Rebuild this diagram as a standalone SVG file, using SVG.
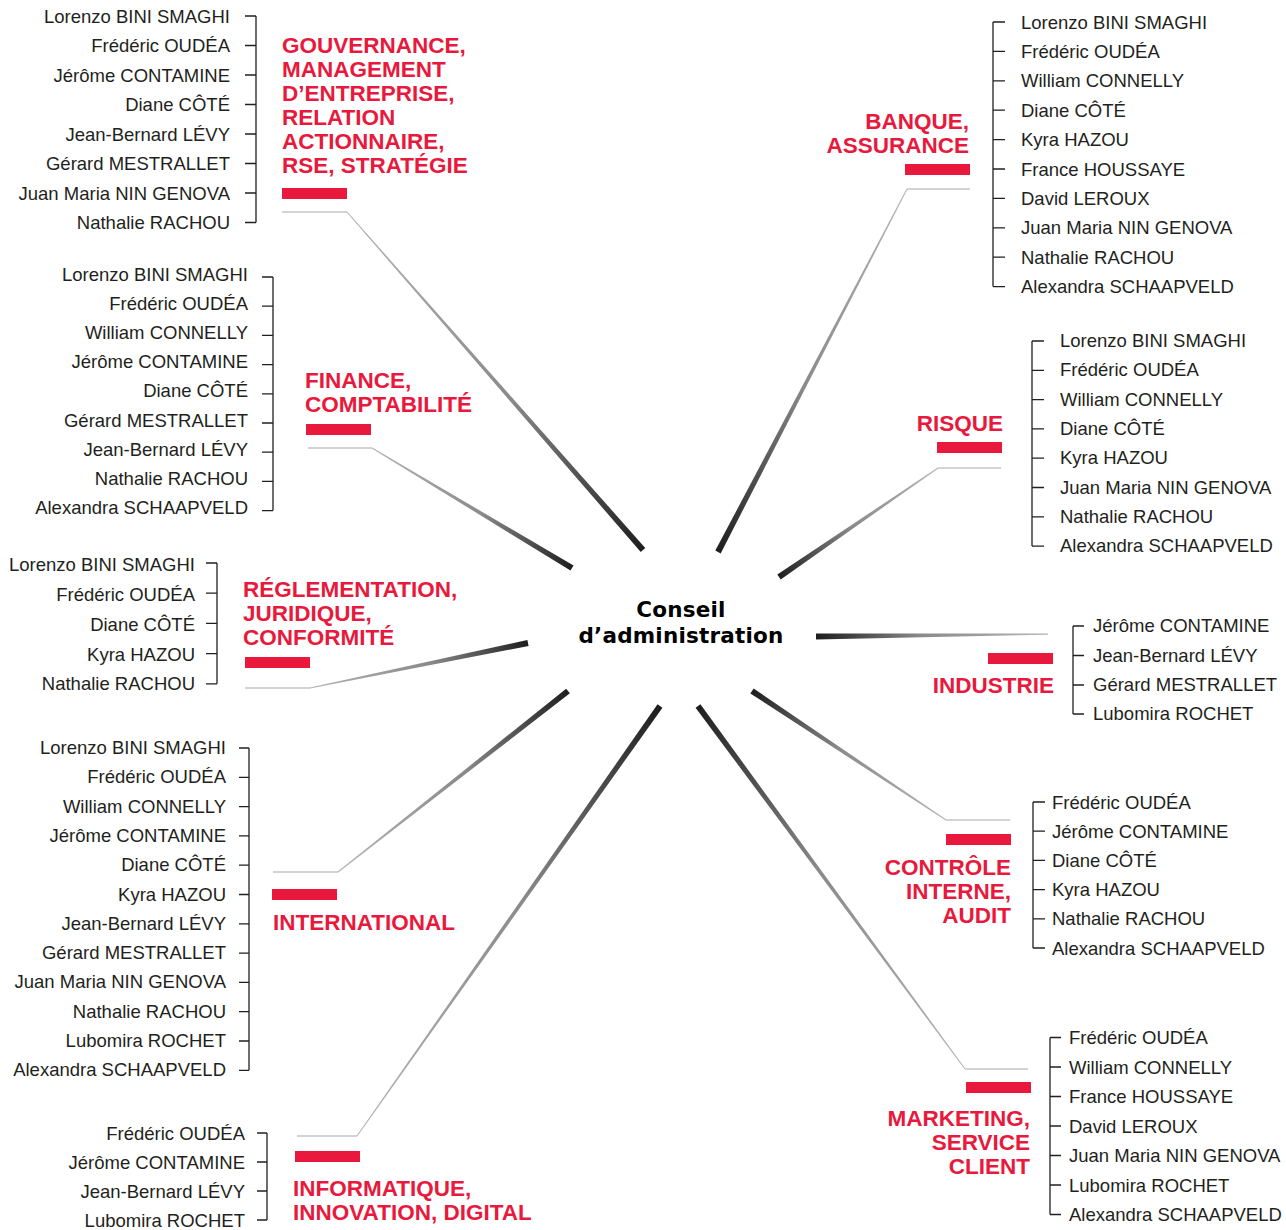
<svg xmlns="http://www.w3.org/2000/svg" width="1286" height="1230" viewBox="0 0 1286 1230">
<style>
.n{font-family:"Liberation Sans",Arial,sans-serif;font-size:18.5px;fill:#231f20}
.l{text-anchor:end}
.t{font-family:"Liberation Sans",Arial,sans-serif;font-size:22.5px;font-weight:bold;fill:#e8193c}
.r{text-anchor:end}
.bar{fill:#e8193c}
.br{fill:none;stroke:#231f20;stroke-width:1.3}
.h{fill:none;stroke:#a8a8a8;stroke-width:1.2}
.c{font-family:"DejaVu Sans","Liberation Sans",sans-serif;font-size:21.5px;font-weight:bold;fill:#000;text-anchor:middle;letter-spacing:0.2px}
</style>
<defs>
<linearGradient id="g1" gradientUnits="userSpaceOnUse" x1="347" y1="212" x2="643" y2="550"><stop offset="0" stop-color="#b5b5b5"/><stop offset="0.55" stop-color="#8a8a8a"/><stop offset="1" stop-color="#1e1e1e"/></linearGradient>
<linearGradient id="g2" gradientUnits="userSpaceOnUse" x1="907" y1="189" x2="718" y2="552"><stop offset="0" stop-color="#b5b5b5"/><stop offset="0.55" stop-color="#8a8a8a"/><stop offset="1" stop-color="#1e1e1e"/></linearGradient>
<linearGradient id="g3" gradientUnits="userSpaceOnUse" x1="372" y1="448" x2="572" y2="568"><stop offset="0" stop-color="#b5b5b5"/><stop offset="0.55" stop-color="#8a8a8a"/><stop offset="1" stop-color="#1e1e1e"/></linearGradient>
<linearGradient id="g4" gradientUnits="userSpaceOnUse" x1="938" y1="468" x2="779" y2="577"><stop offset="0" stop-color="#b5b5b5"/><stop offset="0.55" stop-color="#8a8a8a"/><stop offset="1" stop-color="#1e1e1e"/></linearGradient>
<linearGradient id="g5" gradientUnits="userSpaceOnUse" x1="310" y1="688" x2="528" y2="643"><stop offset="0" stop-color="#b5b5b5"/><stop offset="0.55" stop-color="#8a8a8a"/><stop offset="1" stop-color="#1e1e1e"/></linearGradient>
<linearGradient id="g6" gradientUnits="userSpaceOnUse" x1="1048" y1="634" x2="816" y2="636"><stop offset="0" stop-color="#b5b5b5"/><stop offset="0.55" stop-color="#8a8a8a"/><stop offset="1" stop-color="#1e1e1e"/></linearGradient>
<linearGradient id="g7" gradientUnits="userSpaceOnUse" x1="946" y1="820" x2="752" y2="691"><stop offset="0" stop-color="#b5b5b5"/><stop offset="0.55" stop-color="#8a8a8a"/><stop offset="1" stop-color="#1e1e1e"/></linearGradient>
<linearGradient id="g8" gradientUnits="userSpaceOnUse" x1="338" y1="872" x2="568" y2="691"><stop offset="0" stop-color="#b5b5b5"/><stop offset="0.55" stop-color="#8a8a8a"/><stop offset="1" stop-color="#1e1e1e"/></linearGradient>
<linearGradient id="g9" gradientUnits="userSpaceOnUse" x1="357" y1="1136" x2="660" y2="706"><stop offset="0" stop-color="#b5b5b5"/><stop offset="0.55" stop-color="#8a8a8a"/><stop offset="1" stop-color="#1e1e1e"/></linearGradient>
<linearGradient id="g10" gradientUnits="userSpaceOnUse" x1="965" y1="1069" x2="698" y2="706"><stop offset="0" stop-color="#b5b5b5"/><stop offset="0.55" stop-color="#8a8a8a"/><stop offset="1" stop-color="#1e1e1e"/></linearGradient>
</defs>
<rect width="1286" height="1230" fill="#fff"/>

<g id="connectors">
<path class="h" d="M282 212H347"/><polygon fill="url(#g1)" points="346.62,212.33 640.74,551.98 645.26,548.02 347.38,211.67"/>
<path class="h" d="M970 189H907"/><polygon fill="url(#g2)" points="906.56,188.77 715.34,550.62 720.66,553.39 907.44,189.23"/>
<path class="h" d="M308 448H372"/><polygon fill="url(#g3)" points="371.74,448.43 570.46,570.57 573.54,565.43 372.26,447.57"/>
<path class="h" d="M1001 468H938"/><polygon fill="url(#g4)" points="937.72,467.59 777.30,574.53 780.70,579.47 938.28,468.41"/>
<path class="h" d="M245 688H310"/><polygon fill="url(#g5)" points="310.10,688.49 528.61,645.94 527.39,640.06 309.90,687.51"/>
<polygon fill="url(#g6)" points="1048,633.5 816,633.5 816,639.5 1048,634.7"/>
<path class="h" d="M1010 820H946"/><polygon fill="url(#g7)" points="946.28,819.58 753.66,688.50 750.34,693.50 945.72,820.42"/>
<path class="h" d="M273 872H338"/><polygon fill="url(#g8)" points="338.31,872.39 569.86,693.36 566.14,688.64 337.69,871.61"/>
<path class="h" d="M297 1136H357"/><polygon fill="url(#g9)" points="357.41,1136.29 662.45,707.73 657.55,704.27 356.59,1135.71"/>
<path class="h" d="M1028 1069H965"/><polygon fill="url(#g10)" points="965.40,1068.70 700.42,704.22 695.58,707.78 964.60,1069.30"/>
</g>

<g id="center">
<text class="c" x="681" y="617">Conseil</text>
<text class="c" x="681" y="643">d’administration</text>
</g>

<g id="gouvernance">
<text class="t" x="282" y="53">GOUVERNANCE,</text>
<text class="t" x="282" y="77">MANAGEMENT</text>
<text class="t" x="282" y="101">D’ENTREPRISE,</text>
<text class="t" x="282" y="125">RELATION</text>
<text class="t" x="282" y="149">ACTIONNAIRE,</text>
<text class="t" x="282" y="173">RSE, STRATÉGIE</text>
<rect class="bar" x="282" y="188" width="65" height="11"/>
<path class="br" d="M256 16V222.5M245 16H256M245 45.5H256M245 75H256M245 104.5H256M245 134H256M245 163.5H256M245 193H256M245 222.5H256"/>
<text class="n l" x="230" y="22.5">Lorenzo BINI SMAGHI</text>
<text class="n l" x="230" y="52">Frédéric OUDÉA</text>
<text class="n l" x="230" y="81.5">Jérôme CONTAMINE</text>
<text class="n l" x="230" y="111">Diane CÔTÉ</text>
<text class="n l" x="230" y="140.5">Jean-Bernard LÉVY</text>
<text class="n l" x="230" y="170">Gérard MESTRALLET</text>
<text class="n l" x="230" y="199.5">Juan Maria NIN GENOVA</text>
<text class="n l" x="230" y="229">Nathalie RACHOU</text>
</g>

<g id="finance">
<text class="t" x="305" y="388">FINANCE,</text>
<text class="t" x="305" y="412">COMPTABILITÉ</text>
<rect class="bar" x="306" y="424" width="65" height="11"/>
<path class="br" d="M273 277V510.6M262 277H273M262 306.2H273M262 335.4H273M262 364.6H273M262 393.8H273M262 423H273M262 452.2H273M262 481.4H273M262 510.6H273"/>
<text class="n l" x="248" y="280.5">Lorenzo BINI SMAGHI</text>
<text class="n l" x="248" y="309.7">Frédéric OUDÉA</text>
<text class="n l" x="248" y="338.9">William CONNELLY</text>
<text class="n l" x="248" y="368.1">Jérôme CONTAMINE</text>
<text class="n l" x="248" y="397.3">Diane CÔTÉ</text>
<text class="n l" x="248" y="426.5">Gérard MESTRALLET</text>
<text class="n l" x="248" y="455.7">Jean-Bernard LÉVY</text>
<text class="n l" x="248" y="484.9">Nathalie RACHOU</text>
<text class="n l" x="248" y="514.1">Alexandra SCHAAPVELD</text>
</g>

<g id="reglementation">
<text class="t" x="243" y="597">RÉGLEMENTATION,</text>
<text class="t" x="243" y="621">JURIDIQUE,</text>
<text class="t" x="243" y="645">CONFORMITÉ</text>
<rect class="bar" x="245" y="657" width="65" height="11"/>
<path class="br" d="M217 563V683.8M206 563H217M206 593.2H217M206 623.4H217M206 653.6H217M206 683.8H217"/>
<text class="n l" x="195" y="570.5">Lorenzo BINI SMAGHI</text>
<text class="n l" x="195" y="600.7">Frédéric OUDÉA</text>
<text class="n l" x="195" y="630.9">Diane CÔTÉ</text>
<text class="n l" x="195" y="661.1">Kyra HAZOU</text>
<text class="n l" x="195" y="690.3">Nathalie RACHOU</text>
</g>

<g id="international">
<text class="t" x="273" y="930">INTERNATIONAL</text>
<rect class="bar" x="272" y="889" width="65" height="11"/>
<path class="br" d="M249 748V1070.3M239 748H249M239 777.3H249M239 806.6H249M239 835.9H249M239 865.2H249M239 894.5H249M239 923.8H249M239 953.1H249M239 982.4H249M239 1011.7H249M239 1041H249M239 1070.3H249"/>
<text class="n l" x="226" y="754">Lorenzo BINI SMAGHI</text>
<text class="n l" x="226" y="783.3">Frédéric OUDÉA</text>
<text class="n l" x="226" y="812.6">William CONNELLY</text>
<text class="n l" x="226" y="841.9">Jérôme CONTAMINE</text>
<text class="n l" x="226" y="871.2">Diane CÔTÉ</text>
<text class="n l" x="226" y="900.5">Kyra HAZOU</text>
<text class="n l" x="226" y="929.8">Jean-Bernard LÉVY</text>
<text class="n l" x="226" y="959.1">Gérard MESTRALLET</text>
<text class="n l" x="226" y="988.4">Juan Maria NIN GENOVA</text>
<text class="n l" x="226" y="1017.7">Nathalie RACHOU</text>
<text class="n l" x="226" y="1047">Lubomira ROCHET</text>
<text class="n l" x="226" y="1076.3">Alexandra SCHAAPVELD</text>
</g>

<g id="informatique">
<text class="t" x="293" y="1196">INFORMATIQUE,</text>
<text class="t" x="293" y="1220">INNOVATION, DIGITAL</text>
<rect class="bar" x="295" y="1151" width="65" height="11"/>
<path class="br" d="M267 1133V1220M257 1133H267M257 1162H267M257 1191H267M257 1220H267"/>
<text class="n l" x="245" y="1140">Frédéric OUDÉA</text>
<text class="n l" x="245" y="1169">Jérôme CONTAMINE</text>
<text class="n l" x="245" y="1198">Jean-Bernard LÉVY</text>
<text class="n l" x="245" y="1227">Lubomira ROCHET</text>
</g>

<g id="banque">
<text class="t r" x="969" y="129">BANQUE,</text>
<text class="t r" x="969" y="153">ASSURANCE</text>
<rect class="bar" x="905" y="164" width="65" height="11"/>
<path class="br" d="M993 22V286.6M993 22H1005M993 51.4H1005M993 80.8H1005M993 110.2H1005M993 139.6H1005M993 169H1005M993 198.4H1005M993 227.8H1005M993 257.2H1005M993 286.6H1005"/>
<text class="n" x="1021" y="28.5">Lorenzo BINI SMAGHI</text>
<text class="n" x="1021" y="57.9">Frédéric OUDÉA</text>
<text class="n" x="1021" y="87.3">William CONNELLY</text>
<text class="n" x="1021" y="116.7">Diane CÔTÉ</text>
<text class="n" x="1021" y="146.1">Kyra HAZOU</text>
<text class="n" x="1021" y="175.5">France HOUSSAYE</text>
<text class="n" x="1021" y="204.9">David LEROUX</text>
<text class="n" x="1021" y="234.3">Juan Maria NIN GENOVA</text>
<text class="n" x="1021" y="263.7">Nathalie RACHOU</text>
<text class="n" x="1021" y="293.1">Alexandra SCHAAPVELD</text>
</g>

<g id="risque">
<text class="t r" x="1003" y="431">RISQUE</text>
<rect class="bar" x="937" y="442" width="65" height="11"/>
<path class="br" d="M1032 341V546.1M1032 341H1044M1032 370.3H1044M1032 399.6H1044M1032 428.9H1044M1032 458.2H1044M1032 487.5H1044M1032 516.8H1044M1032 546.1H1044"/>
<text class="n" x="1060" y="347">Lorenzo BINI SMAGHI</text>
<text class="n" x="1060" y="376.3">Frédéric OUDÉA</text>
<text class="n" x="1060" y="405.6">William CONNELLY</text>
<text class="n" x="1060" y="434.9">Diane CÔTÉ</text>
<text class="n" x="1060" y="464.2">Kyra HAZOU</text>
<text class="n" x="1060" y="493.5">Juan Maria NIN GENOVA</text>
<text class="n" x="1060" y="522.8">Nathalie RACHOU</text>
<text class="n" x="1060" y="552.1">Alexandra SCHAAPVELD</text>
</g>

<g id="industrie">
<text class="t r" x="1054" y="693">INDUSTRIE</text>
<rect class="bar" x="988" y="653" width="65" height="11"/>
<path class="br" d="M1073 626V714M1073 626H1084M1073 655.5H1084M1073 685H1084M1073 714H1084"/>
<text class="n" x="1093" y="632">Jérôme CONTAMINE</text>
<text class="n" x="1093" y="661.5">Jean-Bernard LÉVY</text>
<text class="n" x="1093" y="691">Gérard MESTRALLET</text>
<text class="n" x="1093" y="720">Lubomira ROCHET</text>
</g>

<g id="controle">
<text class="t r" x="1011" y="875">CONTRÔLE</text>
<text class="t r" x="1011" y="899">INTERNE,</text>
<text class="t r" x="1011" y="923">AUDIT</text>
<rect class="bar" x="946" y="834" width="65" height="11"/>
<path class="br" d="M1033 802V948M1033 802H1045M1033 831.2H1045M1033 860.4H1045M1033 889.6H1045M1033 918.8H1045M1033 948H1045"/>
<text class="n" x="1052" y="808.5">Frédéric OUDÉA</text>
<text class="n" x="1052" y="837.7">Jérôme CONTAMINE</text>
<text class="n" x="1052" y="866.9">Diane CÔTÉ</text>
<text class="n" x="1052" y="896.1">Kyra HAZOU</text>
<text class="n" x="1052" y="925.3">Nathalie RACHOU</text>
<text class="n" x="1052" y="954.5">Alexandra SCHAAPVELD</text>
</g>

<g id="marketing">
<text class="t r" x="1030" y="1126">MARKETING,</text>
<text class="t r" x="1030" y="1150">SERVICE</text>
<text class="t r" x="1030" y="1174">CLIENT</text>
<rect class="bar" x="966" y="1082" width="65" height="11"/>
<path class="br" d="M1050 1037.5V1214.5M1050 1037.5H1061M1050 1067H1061M1050 1096.5H1061M1050 1126H1061M1050 1155.5H1061M1050 1185H1061M1050 1214.5H1061"/>
<text class="n" x="1069" y="1044">Frédéric OUDÉA</text>
<text class="n" x="1069" y="1073.5">William CONNELLY</text>
<text class="n" x="1069" y="1103">France HOUSSAYE</text>
<text class="n" x="1069" y="1132.5">David LEROUX</text>
<text class="n" x="1069" y="1162">Juan Maria NIN GENOVA</text>
<text class="n" x="1069" y="1191.5">Lubomira ROCHET</text>
<text class="n" x="1069" y="1221">Alexandra SCHAAPVELD</text>
</g>
</svg>
